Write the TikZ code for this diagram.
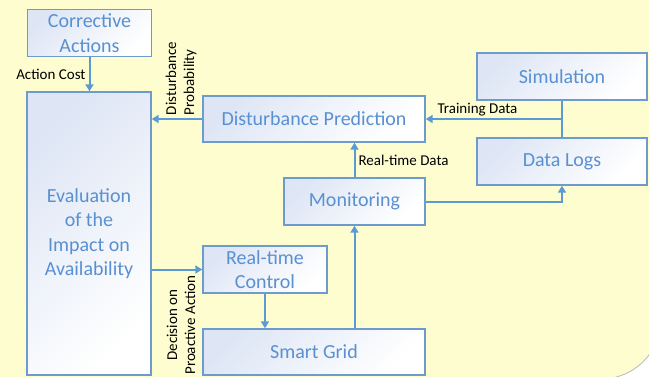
\documentclass[tikz,border=0pt]{standalone}
\usepackage{fontspec}
\setmainfont{Carlito}
\usetikzlibrary{arrows.meta}

\definecolor{bgyellow}{RGB}{253,253,208}
\definecolor{boxline}{RGB}{110,155,205}
\definecolor{boxtext}{RGB}{88,144,210}
\definecolor{boxtint}{RGB}{222,230,245}
\definecolor{flowblue}{RGB}{91,155,213}

\begin{document}
\begin{tikzpicture}[x=1pt, y=-1pt,
    block/.style={draw=boxline, line width=1.4pt, top color=boxtint, bottom color=white, shading angle=45,
                  text=boxtext, font=\fontsize{20}{24.5}\selectfont, align=center, inner sep=0pt},
    flow/.style={draw=flowblue, line width=2pt, -{Triangle[length=7pt,width=8pt]}},
    tag/.style={font=\fontsize{15}{18}\selectfont, text=black, inner sep=3pt}]
    % page and yellow backdrop
    \useasboundingbox (0,0) rectangle (649,376);
    \fill[bgyellow, draw=gray!55, line width=0.8pt, rounded corners=60pt] (-80,-80) rectangle (661,379);

    % blocks
    \node[block, minimum width=124, minimum height=47]  (act)  at (89.5,33)   {Corrective\\Actions};
    \node[block, minimum width=124, minimum height=283] (eval) at (89,233.5)  {Evaluation\\of the\\Impact on\\Availability};
    \node[block, minimum width=222, minimum height=46]  (pred) at (314,119)   {Disturbance Prediction};
    \node[block, minimum width=170, minimum height=47]  (sim)  at (562,76.5)  {Simulation};
    \node[block, minimum width=170, minimum height=47]  (logs) at (562,161.5) {Data Logs};
    \node[block, minimum width=141, minimum height=47]  (mon)  at (354.5,201.5) {Monitoring};
    \node[block, minimum width=124, minimum height=47]  (ctrl) at (265,269.5) {Real-time\\Control};
    \node[block, minimum width=222, minimum height=46]  (grid) at (314,352)   {Smart Grid};

    % flows between blocks
    \draw[flow] (act.south) -- node[tag, left] (costlbl) {Action Cost} (act.south |- eval.north);
    \draw[flow] (pred.west) -- node[tag, pos=0.42, rotate=90, anchor=west, align=left] (problbl) {Disturbance\\Probability} (pred.west -| eval.east);
    \coordinate (split) at (sim.south |- pred.east);
    \draw[draw=flowblue, line width=2pt] (sim.south) -- (logs.north);
    \draw[flow] (split) -- node[tag, pos=0.62, above, inner sep=2pt] (trainlbl) {Training Data} (pred.east);
    \draw[flow] (mon.north) -- node[tag, right] (rtlbl) {Real-time Data} (mon.north |- pred.south);
    \draw[flow] (mon.east) -| (logs.south);
    \draw[flow] (mon.south |- grid.north) -- (mon.south);
    \draw[flow] (eval.east |- ctrl.west) -- node[tag, pos=0.58, rotate=90, anchor=east, align=center, inner sep=5pt] (declbl) {Decision on\\Proactive Action} (ctrl.west);
    \draw[flow] (ctrl.south) -- (ctrl.south |- grid.north);
\end{tikzpicture}
\end{document}
